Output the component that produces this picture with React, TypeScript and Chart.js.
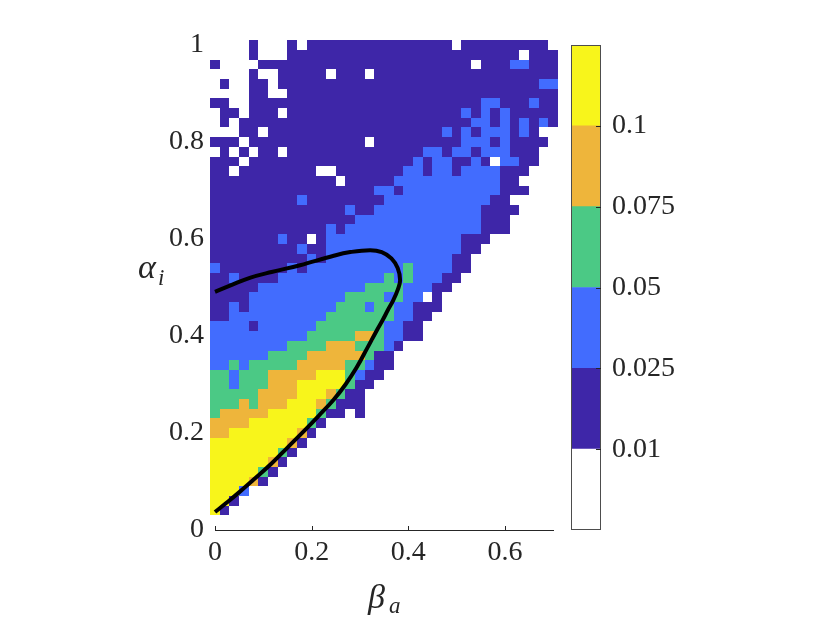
import React, { useEffect, useRef } from 'react';
import { Chart, registerables } from 'chart.js';

Chart.register(...registerables);

// column centres (beta_a) and row centres (alpha_i, top row first)
const betaValues = [0, 0.02, 0.04, 0.06, 0.08, 0.1, 0.12, 0.14, 0.16, 0.18, 0.2, 0.22, 0.24, 0.26, 0.28, 0.3, 0.32, 0.34, 0.36, 0.38, 0.4, 0.42, 0.44, 0.46, 0.48, 0.5, 0.52, 0.54, 0.56, 0.58, 0.6, 0.62, 0.64, 0.66, 0.68, 0.7];
const alphaValues = [1, 0.98, 0.96, 0.94, 0.92, 0.9, 0.88, 0.86, 0.84, 0.82, 0.8, 0.78, 0.76, 0.74, 0.72, 0.7, 0.68, 0.66, 0.64, 0.62, 0.6, 0.58, 0.56, 0.54, 0.52, 0.5, 0.48, 0.46, 0.44, 0.42, 0.4, 0.38, 0.36, 0.34, 0.32, 0.3, 0.28, 0.26, 0.24, 0.22, 0.2, 0.18, 0.16, 0.14, 0.12, 0.1, 0.08, 0.06, 0.04, 0.02, 0];

// level per cell: 0 <0.01, 1 0.01-0.025, 2 0.025-0.05, 3 0.05-0.075, 4 0.075-0.1, 5 >0.1
const levelRows = [
  '000010001011111111111111101111111110',
  '000010001111111111111111111111110111',
  '100001111111111111111111111011122111',
  '000010011111011101111111111111111111',
  '010011011111111111111111111111111122',
  '000011001111111111111111111111111111',
  '110011111111111111111111111122111211',
  '011011101111111111111111112121211111',
  '010111111111111111111111111221212121',
  '000110111111111111111111212122212100',
  '111011111111111101111111112221211110',
  '010101101111111111111122122122211100',
  '111011111111111111111212211210221100',
  '110111111110011111112212212222111000',
  '111111111111101111122222222222110000',
  '111111111111111112212222222222111000',
  '111111111211111111222222222221100000',
  '111111111111112112222222222211110000',
  '111111111111111222222222222211100000',
  '111111111111212222222222222211100000',
  '111111121101222222222222221110000000',
  '111111111211222222222222221100000000',
  '111111111121222222222222211000000000',
  '211111112122222222223222211000000000',
  '112111122222222222323222110000000000',
  '111112222222222233332221100000000000',
  '111122222222223333232201000000000000',
  '112122222222233323322111000000000000',
  '112222222222333333322110000000000000',
  '222212222223333333221100000000000000',
  '222222222233333443221100000000000000',
  '222222223333444333210000000000000000',
  '222222333344444431100000000000000000',
  '223233333444443321100000000000000000',
  '332333444445553211',
  '332333444555553110',
  '333334444555431100',
  '333434445554311100',
  '344444555553110100',
  '444455555531',
  '445555555410',
  '555555554100',
  '555555531000',
  '555555410000',
  '555553100000',
  '555541',
  '555200',
  '551000',
  '510000',
  '',
  '',
];

const levelColors = ['#ffffff', '#3e26a8', '#426cfe', '#4bc985', '#eeb53b', '#f8f51b'];
const colorbarBands = [1, 1, 1, 1, 1, 1];
const colorbarTickPositions = [1, 2, 3, 4, 5];
const colorbarLabels = ['0.01', '0.025', '0.05', '0.075', '0.1'];

const xTickValues = [0, 0.2, 0.4, 0.6];
const yTickValues = [0, 0.2, 0.4, 0.6, 0.8, 1];

const curveBeta = [0, 0.036, 0.072, 0.117, 0.176, 0.244, 0.28, 0.321, 0.345, 0.365, 0.378, 0.383, 0.378, 0.369, 0.358, 0.347, 0.335, 0.315, 0.293, 0.27, 0.245, 0.215, 0.186, 0.15, 0.117, 0.08, 0.048, 0.02, 0];
const curveAlpha = [0.491, 0.506, 0.52, 0.532, 0.546, 0.565, 0.573, 0.577, 0.573, 0.56, 0.54, 0.515, 0.495, 0.474, 0.454, 0.433, 0.412, 0.375, 0.335, 0.3, 0.268, 0.236, 0.206, 0.17, 0.137, 0.104, 0.076, 0.053, 0.037];

const FONT = '"Liberation Serif", "DejaVu Serif", serif';
const TEXT = '#262626';

const heatmapPlugin = {
  id: 'heatmapCells',
  beforeDatasetsDraw(chart: any) {
    const { ctx } = chart;
    const xs = chart.scales.x;
    const ys = chart.scales.y;
    const hx = (betaValues[1] - betaValues[0]) / 2;
    const hy = (alphaValues[0] - alphaValues[1]) / 2;
    ctx.save();
    levelRows.forEach((row, r) => {
      const a = alphaValues[r];
      for (let c = 0; c < betaValues.length; c++) {
        const lv = Number(row[c] || '0');
        if (!lv) continue;
        const b = betaValues[c];
        const x0 = Math.round(xs.getPixelForValue(b - hx));
        const x1 = Math.round(xs.getPixelForValue(b + hx));
        const y0 = Math.round(ys.getPixelForValue(a + hy));
        const y1 = Math.round(ys.getPixelForValue(a - hy));
        ctx.fillStyle = levelColors[lv];
        ctx.fillRect(x0, y0, x1 - x0, y1 - y0);
      }
    });
    ctx.restore();
  },
};

const mainDecorPlugin = {
  id: 'mainDecor',
  afterDraw(chart: any) {
    const { ctx, chartArea } = chart;
    const xs = chart.scales.x;
    ctx.save();
    ctx.strokeStyle = TEXT;
    ctx.lineWidth = 1;
    xTickValues.forEach((v) => {
      const px = Math.round(xs.getPixelForValue(v)) + 0.5;
      ctx.beginPath();
      ctx.moveTo(px, chartArea.bottom);
      ctx.lineTo(px, chartArea.bottom - 4);
      ctx.stroke();
    });
    ctx.fillStyle = TEXT;
    ctx.textAlign = 'left';
    ctx.textBaseline = 'alphabetic';
    ctx.font = 'italic 34px ' + FONT;
    ctx.fillText('α', chartArea.left - 77, 278);
    ctx.font = 'italic 23px ' + FONT;
    ctx.fillText('i', chartArea.left - 57, 285);
    ctx.font = 'italic 34px ' + FONT;
    ctx.fillText('β', 368, 608);
    ctx.font = 'italic 23px ' + FONT;
    ctx.fillText('a', 389, 613);
    ctx.restore();
  },
};

const colorbarFramePlugin = {
  id: 'colorbarFrame',
  afterDraw(chart: any) {
    const { ctx, chartArea } = chart;
    const ys = chart.scales.y;
    ctx.save();
    ctx.strokeStyle = '#4d4d4d';
    ctx.lineWidth = 1;
    ctx.strokeRect(Math.round(chartArea.left) + 0.5, Math.round(chartArea.top) + 0.5, Math.round(chartArea.right - chartArea.left) - 1, Math.round(chartArea.bottom - chartArea.top) - 1);
    ctx.strokeStyle = TEXT;
    colorbarTickPositions.forEach((v) => {
      const py = Math.round(ys.getPixelForValue(v)) + 0.5;
      ctx.beginPath();
      ctx.moveTo(chartArea.right - 5, py);
      ctx.lineTo(chartArea.right, py);
      ctx.stroke();
    });
    ctx.restore();
  },
};

export default function App() {
  const mainRef = useRef<HTMLCanvasElement | null>(null);
  const cbRef = useRef<HTMLCanvasElement | null>(null);

  useEffect(() => {
    if (!mainRef.current || !cbRef.current) return;
    const tickFont = { family: FONT, size: 28 };

    const main = new Chart(mainRef.current, {
      type: 'scatter',
      data: {
        datasets: [
          {
            data: curveBeta.map((b, i) => ({ x: b, y: curveAlpha[i] })),
            showLine: true,
            borderColor: '#000000',
            borderWidth: 4,
            pointRadius: 0,
            tension: 0.4,
            fill: false,
            clip: false as any,
          },
        ],
      },
      options: {
        animation: false,
        responsive: false,
        maintainAspectRatio: false,
        layout: { padding: { left: 0, top: 45, right: 276.7, bottom: 0 } },
        plugins: { legend: { display: false }, tooltip: { enabled: false } },
        scales: {
          x: {
            type: 'linear',
            min: 0,
            max: 0.7,
            afterBuildTicks: (s: any) => {
              s.ticks = xTickValues.map((v) => ({ value: v }));
            },
            afterFit: (s: any) => {
              s.height = 93;
            },
            ticks: {
              autoSkip: false,
              maxRotation: 0,
              padding: 6,
              color: TEXT,
              font: tickFont,
              callback: (v: any) => String(v),
            },
            grid: { display: false, drawTicks: false },
            border: { display: true, color: TEXT, width: 1 },
          },
          y: {
            type: 'linear',
            min: 0,
            max: 1,
            afterBuildTicks: (s: any) => {
              s.ticks = yTickValues.map((v) => ({ value: v }));
            },
            afterFit: (s: any) => {
              s.width = 215;
            },
            ticks: {
              autoSkip: false,
              padding: 11,
              color: TEXT,
              font: tickFont,
              callback: (v: any) => String(v),
            },
            grid: { display: false, drawTicks: false },
            border: { display: false },
          },
        },
      },
      plugins: [heatmapPlugin, mainDecorPlugin],
    } as any);

    const cb = new Chart(cbRef.current, {
      type: 'bar',
      data: {
        labels: ['level'],
        datasets: colorbarBands.map((v, i) => ({
          data: [v],
          backgroundColor: levelColors[i],
          borderWidth: 0,
          barPercentage: 1,
          categoryPercentage: 1,
        })),
      },
      options: {
        animation: false,
        responsive: false,
        maintainAspectRatio: false,
        layout: { padding: { left: 571, top: 45, right: 0, bottom: 93 } },
        plugins: { legend: { display: false }, tooltip: { enabled: false } },
        scales: {
          x: { stacked: true, display: false },
          y: {
            stacked: true,
            position: 'right',
            min: 0,
            max: 6,
            afterBuildTicks: (s: any) => {
              s.ticks = colorbarTickPositions.map((v) => ({ value: v }));
            },
            afterFit: (s: any) => {
              s.width = 229;
            },
            ticks: {
              autoSkip: false,
              padding: 11,
              color: TEXT,
              font: tickFont,
              callback: (v: any) => colorbarLabels[colorbarTickPositions.indexOf(Number(v))] ?? '',
            },
            grid: { display: false, drawTicks: false },
            border: { display: false },
          },
        },
      },
      plugins: [colorbarFramePlugin],
    } as any);

    return () => {
      main.destroy();
      cb.destroy();
    };
  }, []);

  const canvasStyle: React.CSSProperties = { position: 'absolute', left: 0, top: 0, width: 830, height: 623 };
  return (
    <div style={{ position: 'fixed', left: 0, top: 0, width: 830, height: 623, background: '#ffffff' }}>
      <canvas ref={mainRef} width={830} height={623} style={canvasStyle} />
      <canvas ref={cbRef} width={830} height={623} style={canvasStyle} />
    </div>
  );
}
